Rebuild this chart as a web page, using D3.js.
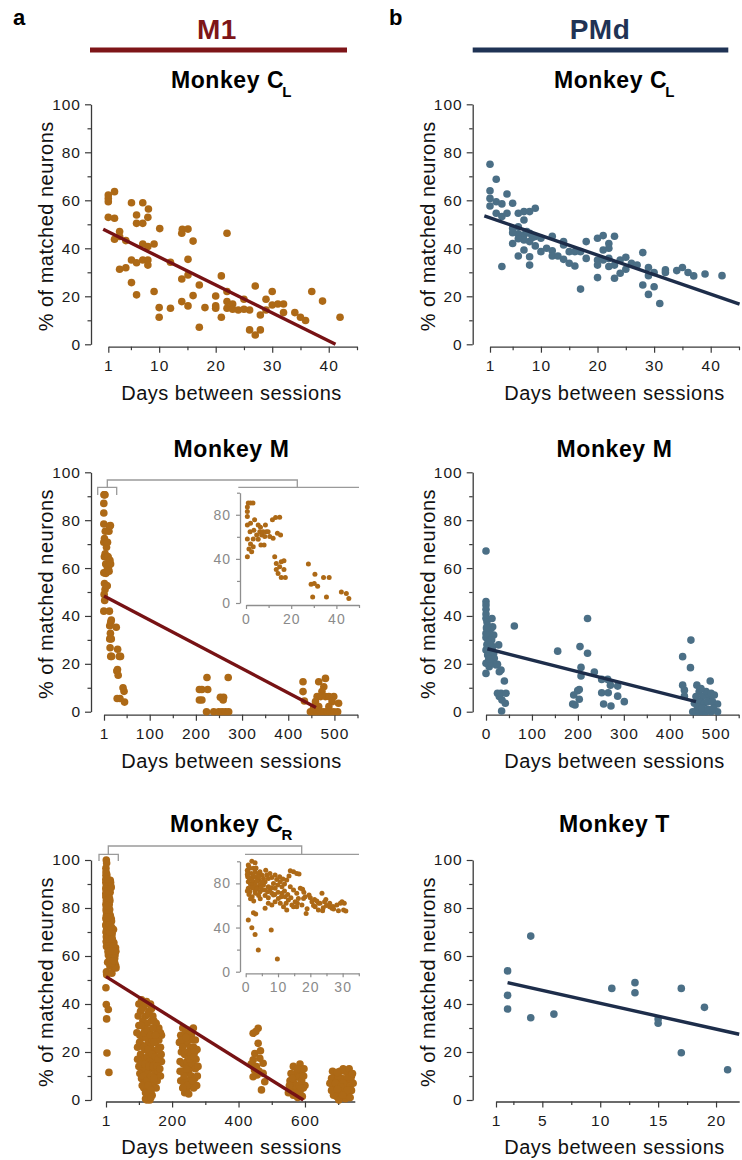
<!DOCTYPE html>
<html>
<head>
<meta charset="utf-8">
<script src="https://cdn.jsdelivr.net/npm/d3@7"></script>
<style>
  body { margin: 0; background: #fff; }
  text { font-family: "Liberation Sans", Arial, Helvetica, sans-serif; }
</style>
</head>
<body>
<div id="chart"></div>
<script>
const W = 742, H = 1160

const m1Dot = "#ad6916", m1Line = "#771214", pmdDot = "#4b6f86", pmdLine = "#1d2d4a"

// tick values
const yTicks = [0, 20, 40, 60, 80, 100]
const yMinor = [10, 30, 50, 70, 90]
const xTicksCL = [1, 10, 20, 30, 40]
const xMinorCL = [5, 15, 25, 35, 45]
const xTicksM1M = [1, 100, 200, 300, 400, 500]
const xTicksPmdM = [0, 100, 200, 300, 400, 500]
const xMinorM = [50, 150, 250, 350, 450, 550]
const xTicksCR = [1, 200, 400, 600]
const xMinorCR = [100, 300, 500, 700]
const xTicksT = [1, 5, 10, 15, 20]
const xMinorT = [2.5, 7.5, 12.5, 17.5]
const insetYTicks = [0, 40, 80]
const insetYMinor = [20, 60, 100]
const insetMTicks = [0, 20, 40]
const insetMMinor = [10, 30, 50]
const insetCRTicks = [0, 10, 20, 30]
const insetCRMinor = [5, 15, 25, 35]

// [days between sessions, % matched neurons]
const m1CL = [[1,62.2],[1,60.8],[1,59.4],[1,52.9],[2.1,63.6],[2.1,52.5],[2.1,43.8],[3,47],[3,44.9],[3,31.3],[4.1,43.2],[4.1,31.9],
  [5.1,59],[5.1,35.1],[5.1,25.7],[6,53.9],[6,50.4],[6,34],[6,20.6],[7.1,59],[7.1,50.4],[7.1,41.8],[7.1,35.1],[8.1,56.4],[8,52.9],
  [8,40.7],[8,35.1],[8,33],[9.1,41.8],[9.1,22],[10.1,48.2],[10,15.3],[10,11.3],[12,34.2],[12,15],[14.1,47.9],[14,46.3],[14,27.2],
  [14,17.8],[15.1,48],[15.1,35.4],[15.1,28.9],[15.1,16],[16,43],[16,20.3],[17.1,24.7],[17.1,7.1],[18.1,15.3],[20,20.1],[20,16],
  [20,15],[21,28.5],[21,11.3],[22,46.3],[22,22],[22,17.8],[22,15],[23,16.8],[23,14.6],[24,14.3],[25,18.8],[25,14.6],[26,14.3],
  [26,6],[27,24.3],[27,3.9],[27.9,12.2],[27.9,6],[28.9,18.8],[28.9,14.3],[30,22],[30,16.4],[31,16.8],[32,16.8],[32,13.2],[34,13.2],
  [35,11.3],[35.9,9.9],[37,22],[38.9,18],[42,11.3]]
const m1CLFit = [[0.1, 47.9], [41.2, 0]]

const pmdCL = [[1,75],[1,64],[1,60.8],[1,57.6],[2.1,68.8],[2.1,59.4],[2.1,54.6],[3.1,58.5],[3.1,53.2],[3.1,32.4],[4,62.6],[4,54.6],
  [5,58.8],[5,48.3],[5,42],[6,54.6],[6,49],[6,46],[6,36.8],[7,55.3],[7,51.8],[7,45.6],[7,43.5],[7,39.3],[8,55.3],[8,46.3],[8,42.8],
  [8,36.5],[8,33],[9,56.7],[9,44.9],[9,41],[10,44.2],[10,38.6],[11,40],[12,45],[12,39],[12,36.8],[13,36.8],[14,42.8],[14,41.4],
  [14,35.4],[15,38.6],[15,33.8],[16,38.6],[16,32.6],[17,23],[17,38.6],[18,42.8],[18,35.8],[20,44.2],[20,35.1],[20,33],[20,27.8],
  [21,45.3],[21,39.3],[21,35.1],[22,42],[22,40],[22,35.8],[22,32.4],[23,45],[23,33],[23,27.5],[24,35.1],[24,29.6],[25,36.3],
  [25,31.3],[26,33.8],[27,33],[28,38.2],[28,24.7],[29,32],[29,28.6],[29,20.8],[30,29.9],[30,24],[31,17],[32,31],[32,29.9],
  [34,30.7],[35,32],[36,29.9],[37,28.5],[39,29.3],[42,28.6],[5,46.5],[6,44],[7.5,47],[8.5,44.5]]
const pmdCLFit = [[0, 53.5], [45.1, 16.7]]

const m1M = [[1,90.6],[2,90.6],[3.1,90.6],[0.6,87],[0.6,83],[0.6,78.4],[0.6,70.8],[0.6,58],[0.6,42],[1.8,64.7],[2,72.3],[1.3,49],
  [2,53.5],[2.5,46.5],[3.2,58],[3.2,51],[3.5,66],[3.8,75.4],[4.7,61.7],[5.4,70.8],[5.4,57.8],[6.1,64.7],[6.4,68.7],[6.9,61.7],
  [6.6,52.6],[7.6,64.7],[8,52.6],[8.3,60.2],[8.6,70.8],[9,64.7],[9.8,64.7],[10.5,60.2],[11.7,75.4],[12,58.7],[13.1,77.5],[14.9,77.8],
  [13.9,63.2],[15.3,61.7],[12.7,42],[13.4,35.9],[13.4,30.4],[14.9,32.8],[15.6,37.4],[16.8,38.3],[16.8,30.4],[14.2,26.7],[15.6,23.1],
  [17.4,23.1],[27.6,35.3],[28.8,17],[30.5,26.1],[30.2,17.6],[31.7,15.2],[29.5,5.5],[34.3,23.1],[36.8,23.1],[35.6,5.5],[42.2,10],
  [44.4,8.5],[45.5,4],
  [207.6,9.3],[213,9.3],[225.6,9.3],[224,14.3],[207.6,4.9],[213,4.9],[223,0],[238.6,0],[253,6],[260,6],[259,4.9],[249.5,0],
  [256.7,0],[264,0],[271,0],[270,14.3],
  [432,12.5],[432,8.4],[435,4.5],[448,0],[455,0],[462.5,0],[470,0],[477,0],[484,0],[491,0],[498.6,0],[507,0],[466,12.5],
  [480.6,13.9],[477,10.4],[473,8.4],[462.5,6.3],[470,6.3],[480.6,6.3],[488,6.3],[498.6,6.3],[495,4.2],[459,4.2],[466,2.1],
  [488,2.1],[509,3.5],[455,1.8]]
const m1MFit = [[1, 48.3], [460, 1.8]]

const pmdM = [[0,67.1],[0,46],[0,44.6],[0,42.8],[0,40.8],[0,39],[2,37.6],[0,32.7],[0,31],[3.6,32.7],[0,25.8],[3.6,23.7],[0,20.2],
  [0,16],[7,18.8],[7,25.8],[9.4,30],[11,34.8],[13,38.9],[14.5,35.5],[16.7,32],[12.3,30],[14.5,27.2],[16.7,24.4],[18,22.3],[11,20.2],
  [22,19.5],[25,19.8],[27.6,27.9],[29,16.7],[32.7,17.4],[25,7.7],[29,6.3],[32.7,7.7],[34.8,4.9],[34,0.3],[40,12.8],[43.5,7.7],
  [42,3.5],[61.7,35.8],[2,28],[5,29],[3,36],[6,22],[1,35],[8,27],
  [156,25.3],[190.9,7],[199.6,8.8],[188.7,3.2],[193.8,2.8],[203,9.3],[203,5.2],[204.6,27.2],[206.8,18.5],[206.8,14.9],[221,38.9],
  [221,24.4],[235.8,16.6],[251.8,13.5],[251.8,7.9],[256,3.2],[264.9,13.5],[266,7.9],[272,2.4],[270.7,11.1],[286.6,10.7],[286.6,6.5],
  [301,4.2],
  [428,23],[428,11.1],[431.8,9],[431.8,6.5],[445,18.4],[446,29.9],[459,11.1],[450,0],[457,0],[464,0],[471.7,0],[479,0],[490,0],
  [504,0],[464,8.4],[471.7,6.3],[479,8.4],[486,6.3],[490,7.7],[488,12.8],[464,4.2],[475,3.5],[482.6,4.2],[493,4.2],[504,3.2],
  [457,6.3],[468,9.7],[453.6,3.5],[497,7],[460,2],[470,1.5],[483,1],[495,1.5]]
const pmdMFit = [[3, 26.3], [457, 4.2]]

const m1CR = [[0.8,46.8],[1.9,39.8],[2.4,53.4],[3.1,52.2],[2.9,33.8],[3.9,19.6],[7.9,37.7],[9.8,11.5],
  [0.8,96.6],[1.9,100],[2.9,98.7],[1.3,93.6],[2.4,93.6],[0.6,90.6],[1.7,89],[2.9,90.6],[3.9,89],[0.6,86],[1.3,84.5],[2.4,86],
  [3.4,85.4],[4.4,90.6],[5,87.5],[0.8,81.5],[1.9,80],[3.1,81.5],[4.1,83],[5.5,84.5],[6.5,87.5],[6,81.5],[7,84.5],[7.5,89],
  [8.1,85.4],[9.1,87.5],[9.6,83.6],[8.6,80],[7,77],[5.5,78.5],[3.9,77],[2.4,77],[0.8,75.5],[1.3,72.5],[2.9,73.4],[4.4,72.5],
  [6,74],[6.8,72.5],[7.5,74],[8.1,71],[9.1,75.5],[9.9,78.5],[10.7,81.5],[11.2,77],[12,79.4],[12.7,83],[13.4,86.6],[13.8,91.5],
  [14.8,90.6],[15.8,89],[13.8,77],[14.8,74],[15.8,71],[16.9,75.5],[17.6,74.6],[18.4,68],[16.3,66.4],[15.3,63.4],[14.3,60.4],
  [13.2,65],[12.2,68],[11.2,71],[10.1,66.4],[9.1,63.4],[8.1,60.4],[7,61.9],[6,57.4],[8.6,69.4],[10.7,61.9],[11.7,58.9],
  [12.7,55.8],[14.8,58.9],[15.8,58.9],[17.9,66.4],[17.4,60.4],[18.7,52.8],[19.6,69.4],[20.5,63.4],[21.5,58.9],[22.5,61.9],
  [23.6,71],[24.4,63.4],[24.8,65.5],[22.5,55.8],[23.8,55.2],[26,58.9],[27.2,56.8],[28.2,60.4],[29.3,61.9],[29.8,63.4],[30.3,55.8],
  [28.7,55.2],[26.7,57.4],[21.3,65.5],
  [0.5,88],[1,85],[1.5,79],[2,83],[2.5,87],[3,78],[3.5,82],[4,86],[4.5,79],[5,81],[1,70],[2,68],[3,71],[4,69],[5,74],[0.5,73],
  [1.5,66],[2.5,64],[3.5,75],[4.5,66],[6,69],[7,67],[8,76],[9,70],[10,72],[11,68],[12,73],[13,70],[14,67],[16,62],[18,72],[20,67],
  [21,60],[23,62],[25,60],[27,59],[31,55],[30.5,62],[19,57],[22,64],[24,58],[26,62],[0.5,92],[1,95],[3.2,94],[2,76],[4.8,76],
  [6.2,92],[10.5,86],[11.5,84],[12.5,62],[16.5,88.5],
  [108,41.7],[123,41],[138,38],[100,40],[115,39],[130,37],[105,37],[120,35],[130,36],[112,33],[125,32],[138,33],[148,30],[100,31],
  [118,30],[132,29],[145,27],[155,28],[103,27],[110,26],[122,26],[128,24],[140,25],[150,24],[160,25],[165,22],[96,22],[108,23],
  [118,21],[135,22],[145,20],[155,21],[162,18],[105,19],[115,17],[125,18],[132,16],[142,17],[152,15],[168,16],[100,14],[112,13],
  [122,12],[138,13],[148,11],[158,12],[165,10],[108,9],[118,8],[128,9],[135,7],[145,6],[155,8],[115,5],[125,4],[132,3],[140,2],
  [128,1],[133,0],[120,0.5],[126,11],[130,20],[94,28],[168,27],[160,30],[142,35],
  [98,35],[110,38],[120,40],[135,40],[145,33],[152,32],[158,29],[165,28],[102,24],[114,22],[127,21],[140,19],[150,18],[158,17],
  [167,19],[96,17],[106,15],[118,15],[130,14],[142,14],[155,14],[163,13],[103,11],[113,10],[124,8],[136,10],[146,9],[152,5],
  [110,6],[120,3],[128,6],[137,4],[124,0],[136,1],[115,28],[125,29],[135,27],[145,24],[107,31],[142,30],[150,27],[160,21],
  [232,30],[264,30],[226,27],[240,28],[250,26],[258,27],[270,25],[222,24],[235,23],[245,24],[255,22],[265,22],[275,21],[228,20],
  [238,19],[248,20],[260,18],[272,17],[224,16],[234,15],[244,16],[252,14],[262,15],[270,13],[230,12],[240,11],[250,12],[258,10],
  [268,9],[276,10],[226,8],[236,7],[246,8],[255,6],[265,5],[274,6],[238,3],[244,4],[250,2.5],[232,22],[256,19],[242,13],
  [228,25],[246,27],[262,25],[268,20],[253,17],[236,10],[246,6],[262,8],[278,14],[224,12],[232,5],[266,18],[242,26],[254,29],
  [444,27.8],[459,29.9],[452,28.5],[459,23.6],[449,19.4],[444,16.7],[464,17.4],[474,15.3],[454,13.9],[456,10.4],[444,9.7],
  [469,4.2],[479,7.6],[474,11.1],[448,12.5],[462,12],[438,15],[466,20.5],
  [565,14],[585,15],[590,12],[572,11],[580,9.5],[555,8],[568,7],[590,8],[600,6],[560,5],[575,4],[585,3.5],[595,5],[550,3],[565,2],
  [578,1],[592,1.5],[570,6],[582,6],[558,11],[596,10],[562,9],[577,13],[597,13],[553,6],[588,5],
  [690,11],[705,12],[715,13],[730,11],[740,10],[680,9],[695,8],[710,9],[725,8],[738,8.5],[685,6],[700,6.5],[712,5],[722,6],
  [735,5.5],[690,4],[705,3],[718,3.5],[730,2.5],[695,1.5],[710,1],[722,0.5],[700,10],[728,9.5],[715,7],[686,2],[740,4],[702,0],[675,7],
  [683,12],[697,11.5],[720,12],[733,13],[745,7],[692,7],[708,5.5],[727,4],[680,4],[698,4.5],[713,2],[736,1],[743,11]]
const m1CRFit = [[1, 51.4], [595, 0]]

const pmdT = [[2,53.8],[2,43.6],[2,37.9],[4,68.3],[4,34.3],[6,35.8],[11,46.5],[13,48.9],[13,44.7],[15,33.8],[15,32],[17,46.5],
  [17,19.7],[19,38.6],[21,12.6]]
const pmdTFit = [[2, 48.9], [22, 27.4]]

// layout of the six panels
const leftAx = 91, rightAx = 472.7
const rows = [
  {yRange: [344.3, 104.3], xAxisY: 346.7, titleY: 88.3, xTitleY: 400},
  {yRange: [711.7, 472.3], xAxisY: 714.7, titleY: 456.7, xTitleY: 768},
  {yRange: [1100, 860], xAxisY: 1101.5, titleY: 831.7, xTitleY: 1154}
]

const panels = [
  {row: 0, ax: leftAx, cx: 231.5, data: m1CL, fit: m1CLFit, dot: m1Dot, line: m1Line,
   xDomain: [1, 45], xRange: [108.3, 357], xMajor: xTicksCL, xMinor: xMinorCL, title: "Monkey C", sub: "L"},
  {row: 0, ax: rightAx, cx: 614.5, data: pmdCL, fit: pmdCLFit, dot: pmdDot, line: pmdLine,
   xDomain: [1, 45], xRange: [490, 739], xMajor: xTicksCL, xMinor: xMinorCL, title: "Monkey C", sub: "L"},
  {row: 1, ax: leftAx, cx: 231.5, data: m1M, fit: m1MFit, dot: m1Dot, line: m1Line,
   xDomain: [1, 550], xRange: [104, 357.5], xMajor: xTicksM1M, xMinor: xMinorM, title: "Monkey M",
   inset: {xDomain: [0, 50], xRange: [246, 359], yRange: [603, 492.7], ax: 240, xAxisY: 605,
           xMajor: insetMTicks, xMinor: insetMMinor,
           bracket: {x0: 97.7, x1: 116.7, y: 487.3, leg: 7.7, stem: 107.3, top: 480, x2: 297.3, lineX0: 238.3, lineX1: 359}}},
  {row: 1, ax: rightAx, cx: 614.5, data: pmdM, fit: pmdMFit, dot: pmdDot, line: pmdLine,
   xDomain: [0, 550], xRange: [486, 738.7], xMajor: xTicksPmdM, xMinor: xMinorM, title: "Monkey M"},
  {row: 2, ax: leftAx, cx: 231.5, data: m1CR, fit: m1CRFit, dot: m1Dot, line: m1Line,
   xDomain: [1, 750], xRange: [106, 354.8], xMajor: xTicksCR, xMinor: xMinorCR, title: "Monkey C", sub: "R",
   inset: {xDomain: [0, 35], xRange: [245.7, 358.8], yRange: [971.7, 861.3], ax: 240, xAxisY: 973.3,
           xMajor: insetCRTicks, xMinor: insetCRMinor,
           bracket: {x0: 99, x1: 118.3, y: 854.3, leg: 6.7, stem: 108.3, top: 846, x2: 301.7, lineX0: 245, lineX1: 359}}},
  {row: 2, ax: rightAx, cx: 614.5, data: pmdT, fit: pmdTFit, dot: pmdDot, line: pmdLine,
   xDomain: [1, 22], xRange: [496, 739.2], xMajor: xTicksT, xMinor: xMinorT, title: "Monkey T"}
]

const svg = d3.select("#chart").append("svg")
  .attr("width", W).attr("height", H)

function styleAxis(sel, color, labelColor, size) {
  sel.attr("font-family", null).attr("font-size", null)
  sel.selectAll(".domain").attr("stroke", color).attr("stroke-width", 1.3)
  sel.selectAll(".tick line").attr("stroke", color).attr("stroke-width", 1.2)
  sel.selectAll(".tick text").attr("fill", labelColor)
    .style("font-size", size + "px").style("letter-spacing", "1px")
}

function drawAxes(g, x, y, ax, xAxisY, o) {
  g.append("g").attr("transform", "translate(" + ax + ",0)")
    .call(d3.axisLeft(y).tickValues(o.yMajor).tickSize(o.major).tickSizeOuter(0).tickPadding(o.pad))
    .call(styleAxis, o.color, o.label, o.size)
  g.append("g").attr("transform", "translate(" + ax + ",0)")
    .call(d3.axisLeft(y).tickValues(o.yMinor).tickSize(o.minor).tickFormat(""))
    .call(s => s.select(".domain").remove())
    .call(styleAxis, o.color, o.label, o.size)
  g.append("g").attr("transform", "translate(0," + xAxisY + ")")
    .call(d3.axisBottom(x).tickValues(o.xMajor).tickSize(o.major).tickSizeOuter(0).tickPadding(o.xpad))
    .call(styleAxis, o.color, o.label, o.size)
  g.append("g").attr("transform", "translate(0," + xAxisY + ")")
    .call(d3.axisBottom(x).tickValues(o.xMinor).tickSize(o.minor).tickFormat(""))
    .call(s => s.select(".domain").remove())
    .call(styleAxis, o.color, o.label, o.size)
}

const line = d3.line()

panels.forEach(function(p) {
  const r = rows[p.row]
  const g = svg.append("g")
  const x = d3.scaleLinear().domain(p.xDomain).range(p.xRange)
  const y = d3.scaleLinear().domain([0, 100]).range(r.yRange)

  drawAxes(g, x, y, p.ax, r.xAxisY, {
    yMajor: yTicks, yMinor: yMinor, xMajor: p.xMajor, xMinor: p.xMinor,
    major: 6, minor: 3.5, pad: 4, xpad: 7, color: "#3a3a3a", label: "#1a1a1a", size: 15.5
  })

  g.append("g").selectAll("circle")
    .data(p.data)
    .enter().append("circle")
    .attr("cx", d => x(d[0]))
    .attr("cy", d => y(d[1]))
    .attr("r", 3.8)
    .attr("fill", p.dot)

  g.append("path")
    .attr("d", line.x(d => x(d[0])).y(d => y(d[1]))(p.fit))
    .attr("fill", "none")
    .attr("stroke", p.line)
    .attr("stroke-width", 3.4)

  // panel title
  const t = g.append("text")
    .attr("x", p.cx).attr("y", r.titleY)
    .attr("text-anchor", "middle")
    .attr("font-weight", "bold").attr("font-size", 23)
    .style("letter-spacing", "0.6px")
    .text(p.title)
  if (p.sub) {
    t.append("tspan").attr("dx", -2).attr("dy", 8.4)
      .attr("font-size", 15).text(p.sub)
  }

  // axis titles
  g.append("text")
    .attr("x", p.cx).attr("y", r.xTitleY)
    .attr("text-anchor", "middle")
    .attr("font-size", 20).attr("fill", "#111")
    .style("letter-spacing", "0.5px")
    .text("Days between sessions")
  g.append("text")
    .attr("transform", "translate(" + (p.ax - 38) + "," + ((r.yRange[0] + r.yRange[1]) / 2 + 2) + ") rotate(-90)")
    .attr("text-anchor", "middle")
    .attr("font-size", 20).attr("fill", "#111")
    .style("letter-spacing", "0.5px")
    .text("% of matched neurons")

  if (p.inset) drawInset(g, p)
})

function drawInset(g, p) {
  const o = p.inset
  const x = d3.scaleLinear().domain(o.xDomain).range(o.xRange)
  const y = d3.scaleLinear().domain([0, 100]).range(o.yRange)
  const gray = "#8e8e8e"

  drawAxes(g, x, y, o.ax, o.xAxisY, {
    yMajor: insetYTicks, yMinor: insetYMinor, xMajor: o.xMajor, xMinor: o.xMinor,
    major: 4, minor: 3, pad: 5, xpad: 5, color: gray, label: "#8a8a8a", size: 14
  })

  g.append("g").selectAll("circle")
    .data(p.data.filter(d => d[0] <= o.xDomain[1]))
    .enter().append("circle")
    .attr("cx", d => x(d[0]))
    .attr("cy", d => y(d[1]))
    .attr("r", 2.5)
    .attr("fill", p.dot)

  // bracket linking the first days of the main plot to the inset
  const b = o.bracket
  const br = g.append("g").attr("fill", "none").attr("stroke", "#9a9a9a").attr("stroke-width", 1.3)
  br.append("path").attr("d", "M" + b.x0 + "," + (b.y + b.leg) + "V" + b.y + "H" + b.x1 + "V" + (b.y + b.leg))
  br.append("path").attr("d", "M" + b.stem + "," + b.y + "V" + b.top + "H" + b.x2 + "V" + b.y)
  br.append("path").attr("d", "M" + b.lineX0 + "," + b.y + "H" + b.lineX1)
}

// region headers
const headers = [
  {letter: "a", lx: 13, name: "M1", cx: 217, color: "#7e1518", x0: 90, x1: 347},
  {letter: "b", lx: 389, name: "PMd", cx: 600, color: "#1f3355", x0: 472.7, x1: 728.3}
]
headers.forEach(function(h) {
  svg.append("text").attr("x", h.lx).attr("y", 25)
    .attr("font-weight", "bold").attr("font-size", 22).text(h.letter)
  svg.append("text").attr("x", h.cx).attr("y", 39.3)
    .attr("text-anchor", "middle").attr("font-weight", "bold").attr("font-size", 28)
    .attr("fill", h.color).style("letter-spacing", "0.5px").text(h.name)
  svg.append("line").attr("x1", h.x0).attr("x2", h.x1).attr("y1", 50).attr("y2", 50)
    .attr("stroke", h.color).attr("stroke-width", 5)
})
</script>
</body>
</html>
